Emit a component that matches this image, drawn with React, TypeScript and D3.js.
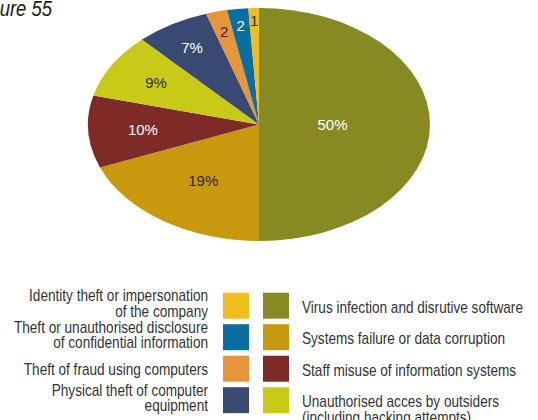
import React from "react";
import * as d3 from "d3";

const categories = [
  "Virus infection and disrutive software",
  "Systems failure or data corruption",
  "Staff misuse of information systems",
  "Unauthorised acces by outsiders (including hacking attempts)",
  "Physical theft of computer equipment",
  "Theft of fraud using computers",
  "Theft or unauthorised disclosure of confidential information",
  "Identity theft or impersonation of the company",
];
const values = [50, 19, 10, 9, 7, 2, 2, 1];
const sliceLabels = ["50%", "19%", "10%", "9%", "7%", "2", "2", "1"];
const colors = ["#878a23", "#c8990f", "#7e2a27", "#c9ca17", "#394a72", "#e8953a", "#0b6ea1", "#f0bd1e"];
const labelColors = ["#ffffff", "#2a2a2a", "#ffffff", "#2a2a2a", "#ffffff", "#2a2a2a", "#ffffff", "#2a2a2a"];

const legendLeft = [
  { idx: 7, lines: ["Identity theft or impersonation", "of the company"] },
  { idx: 6, lines: ["Theft or unauthorised disclosure", "of confidential information"] },
  { idx: 5, lines: ["Theft of fraud using computers"] },
  { idx: 4, lines: ["Physical theft of computer", "equipment"] },
];
const legendRight = [
  { idx: 0, lines: ["Virus infection and disrutive software"] },
  { idx: 1, lines: ["Systems failure or data corruption"] },
  { idx: 2, lines: ["Staff misuse of information systems"] },
  { idx: 3, lines: ["Unauthorised acces by outsiders", "(including hacking attempts)"] },
];

const labelRadiusFrac = [0.43, 0.58, 0.68, 0.7, 0.77, 0.82, 0.86, 0.89];

export default function App() {
  const W = 538, H = 420;
  const cx = 259, cy = 124.5, rx = 171, ry = 116.5;
  const sy = ry / rx;
  const pie = d3.pie<number>().sort(null).startAngle(0).endAngle(2 * Math.PI);
  const arcs = pie(values);
  const arc = d3.arc<d3.PieArcDatum<number>>().innerRadius(0).outerRadius(rx);
  const font = "'Liberation Sans', Arial, sans-serif";
  const textCol = "#333333";
  const sx = 0.85;
  const legSize = 16;
  const rowTop = (i: number) => 292.7 + i * 31.5;
  return (
    <svg width={W} height={H} style={{ position: "absolute", left: 0, top: 0, background: "#fff" }}>
      <text transform={`translate(52,15.5) scale(0.84,1)`} textAnchor="end" fontFamily={font} fontStyle="italic" fontSize={22} fill="#1a1a1a">
        Figure 55
      </text>
      <g transform={`translate(${cx},${cy}) scale(1,${sy})`}>
        {arcs.map((a, i) => (
          <path key={i} d={arc(a) || ""} fill={colors[i]} />
        ))}
      </g>
      {arcs.map((a, i) => {
        const mid = (a.startAngle + a.endAngle) / 2;
        const r = rx * labelRadiusFrac[i];
        const x = cx + Math.sin(mid) * r;
        const y = cy - Math.cos(mid) * r * sy;
        return (
          <text key={i} x={x} y={y} dy="0.36em" textAnchor="middle" fontFamily={font} fontSize={15} fill={labelColors[i]}>
            {sliceLabels[i]}
          </text>
        );
      })}
      {legendLeft.map((it, i) => {
        const top = rowTop(i);
        const n = it.lines.length;
        const base0 = n === 1 ? top + 18.8 : top + 8.3;
        return (
          <g key={"l" + i}>
            <rect x={223} y={top} width={26} height={26} fill={colors[it.idx]} />
            {it.lines.map((ln, j) => (
              <text key={j} transform={`translate(208,${base0 + j * 15.8}) scale(${sx},1)`} textAnchor="end" fontFamily={font} fontSize={legSize} fill={textCol}>
                {ln}
              </text>
            ))}
          </g>
        );
      })}
      {legendRight.map((it, i) => {
        const top = rowTop(i);
        return (
          <g key={"r" + i}>
            <rect x={263} y={top} width={26} height={26} fill={colors[it.idx]} />
            {it.lines.map((ln, j) => (
              <text key={j} transform={`translate(302,${top + 20 + j * 15.8}) scale(${sx},1)`} fontFamily={font} fontSize={legSize} fill={textCol}>
                {ln}
              </text>
            ))}
          </g>
        );
      })}
    </svg>
  );
}
